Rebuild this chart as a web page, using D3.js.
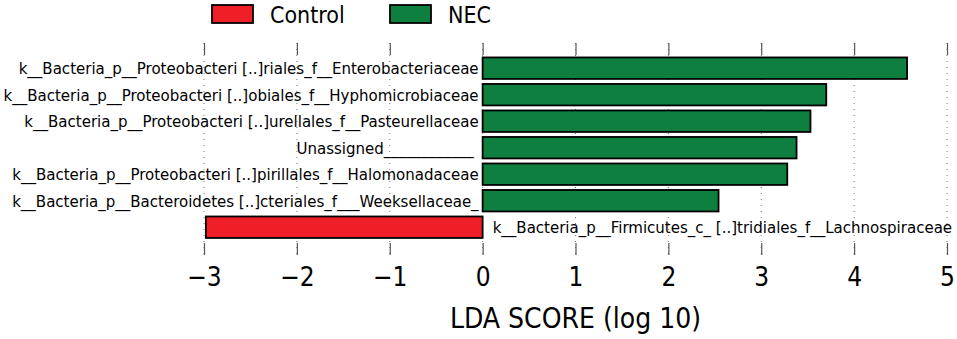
<!DOCTYPE html>
<html lang="en">
<head>
    <meta charset="UTF-8"/>
    <title>LDA score</title>
    <script src="https://d3js.org/d3.v7.min.js"></script>
    <style>
        body { margin: 0; background: #fff; }
        text { font-family: "DejaVu Sans Condensed", "DejaVu Sans", sans-serif; fill: #000; }
    </style>
</head>
<body>
    <script>
        // taxa, top to bottom
        var taxa = [
            "k__Bacteria_p__Proteobacteri [..]riales_f__Enterobacteriaceae",
            "k__Bacteria_p__Proteobacteri [..]obiales_f__Hyphomicrobiaceae",
            "k__Bacteria_p__Proteobacteri [..]urellales_f__Pasteurellaceae",
            "Unassigned____________\u00a0",
            "k__Bacteria_p__Proteobacteri [..]pirillales_f__Halomonadaceae",
            "k__Bacteria_p__Bacteroidetes [..]cteriales_f___Weeksellaceae_",
            "k__Bacteria_p__Firmicutes_c_ [..]tridiales_f__Lachnospiraceae"
        ];
        var scores = [4.57, 3.70, 3.53, 3.38, 3.28, 2.54, -2.98];
        var groupOf = ["NEC", "NEC", "NEC", "NEC", "NEC", "NEC", "Control"];
        var groups = ["Control", "NEC"];
        var groupColors = ["#ee1f26", "#0f7f40"];
        var xTicks = [-3, -2, -1, 0, 1, 2, 3, 4, 5];

        var w = 957, h = 339;

        var svg = d3.select("body").append("svg")
            .attr("width", w)
            .attr("height", h);

        var x = d3.scaleLinear().domain([-3, 5]).range([204, 947]);
        var y = d3.scaleBand()
            .domain(d3.range(taxa.length))
            .range([54.8, 240.6])
            .paddingInner(0.19)
            .paddingOuter(0.1);
        var color = d3.scaleOrdinal().domain(groups).range(groupColors);

        // dotted grid lines
        svg.append("g").selectAll("line")
            .data(xTicks)
            .enter().append("line")
            .attr("x1", function(d) { return x(d); })
            .attr("x2", function(d) { return x(d); })
            .attr("y1", 43)
            .attr("y2", 255)
            .attr("stroke", "#777")
            .attr("stroke-width", 1)
            .attr("stroke-dasharray", "1,5");

        // tick marks top & bottom
        var topAxis = svg.append("g")
            .attr("transform", "translate(0,55)")
            .call(d3.axisTop(x).tickValues(xTicks).tickSize(12).tickFormat(""));
        var bottomAxis = svg.append("g")
            .attr("transform", "translate(0,243)")
            .call(d3.axisBottom(x).tickValues(xTicks).tickSize(12).tickPadding(13)
                .tickFormat(function(d) { return d < 0 ? "\u2212" + Math.abs(d) : d; }));
        [topAxis, bottomAxis].forEach(function(a) {
            a.select(".domain").remove();
            a.selectAll(".tick line").attr("stroke", "#555").attr("stroke-width", 1.2);
        });
        bottomAxis.selectAll(".tick text")
            .style("font-family", "DejaVu Sans Condensed, DejaVu Sans, sans-serif")
            .style("font-size", "26px")
            .attr("fill", "#000");

        // bars
        svg.append("g").selectAll("rect")
            .data(scores)
            .enter().append("rect")
            .attr("x", function(d) { return x(Math.min(0, d)); })
            .attr("y", function(d, i) { return y(i); })
            .attr("width", function(d) { return Math.abs(x(d) - x(0)); })
            .attr("height", y.bandwidth())
            .attr("fill", function(d, i) { return color(groupOf[i]); })
            .attr("stroke", "#000")
            .attr("stroke-width", 1.8);

        // bar labels
        svg.append("g").selectAll("text")
            .data(taxa)
            .enter().append("text")
            .attr("x", function(d, i) { return scores[i] > 0 ? x(0) - 4 : x(0) + 10; })
            .attr("y", function(d, i) { return y(i) + y.bandwidth() / 2 + 6; })
            .attr("text-anchor", function(d, i) { return scores[i] > 0 ? "end" : "start"; })
            .style("font-size", "16.7px")
            .text(function(d) { return d; });

        // axis title
        svg.append("text")
            .attr("x", (x(-3) + x(5)) / 2)
            .attr("y", 328)
            .attr("text-anchor", "middle")
            .style("font-size", "28px")
            .text("LDA SCORE (log 10)");

        // legend
        var legendX = [212, 390];
        var legend = svg.append("g").selectAll("g")
            .data(groups)
            .enter().append("g")
            .attr("transform", function(d, i) { return "translate(" + legendX[i] + ",5)"; });
        legend.append("rect")
            .attr("width", 41)
            .attr("height", 18)
            .attr("fill", function(d) { return color(d); })
            .attr("stroke", "#000")
            .attr("stroke-width", 1.8);
        legend.append("text")
            .attr("x", 58)
            .attr("y", 18)
            .style("font-size", "23px")
            .text(function(d) { return d; });
    </script>
</body>
</html>
